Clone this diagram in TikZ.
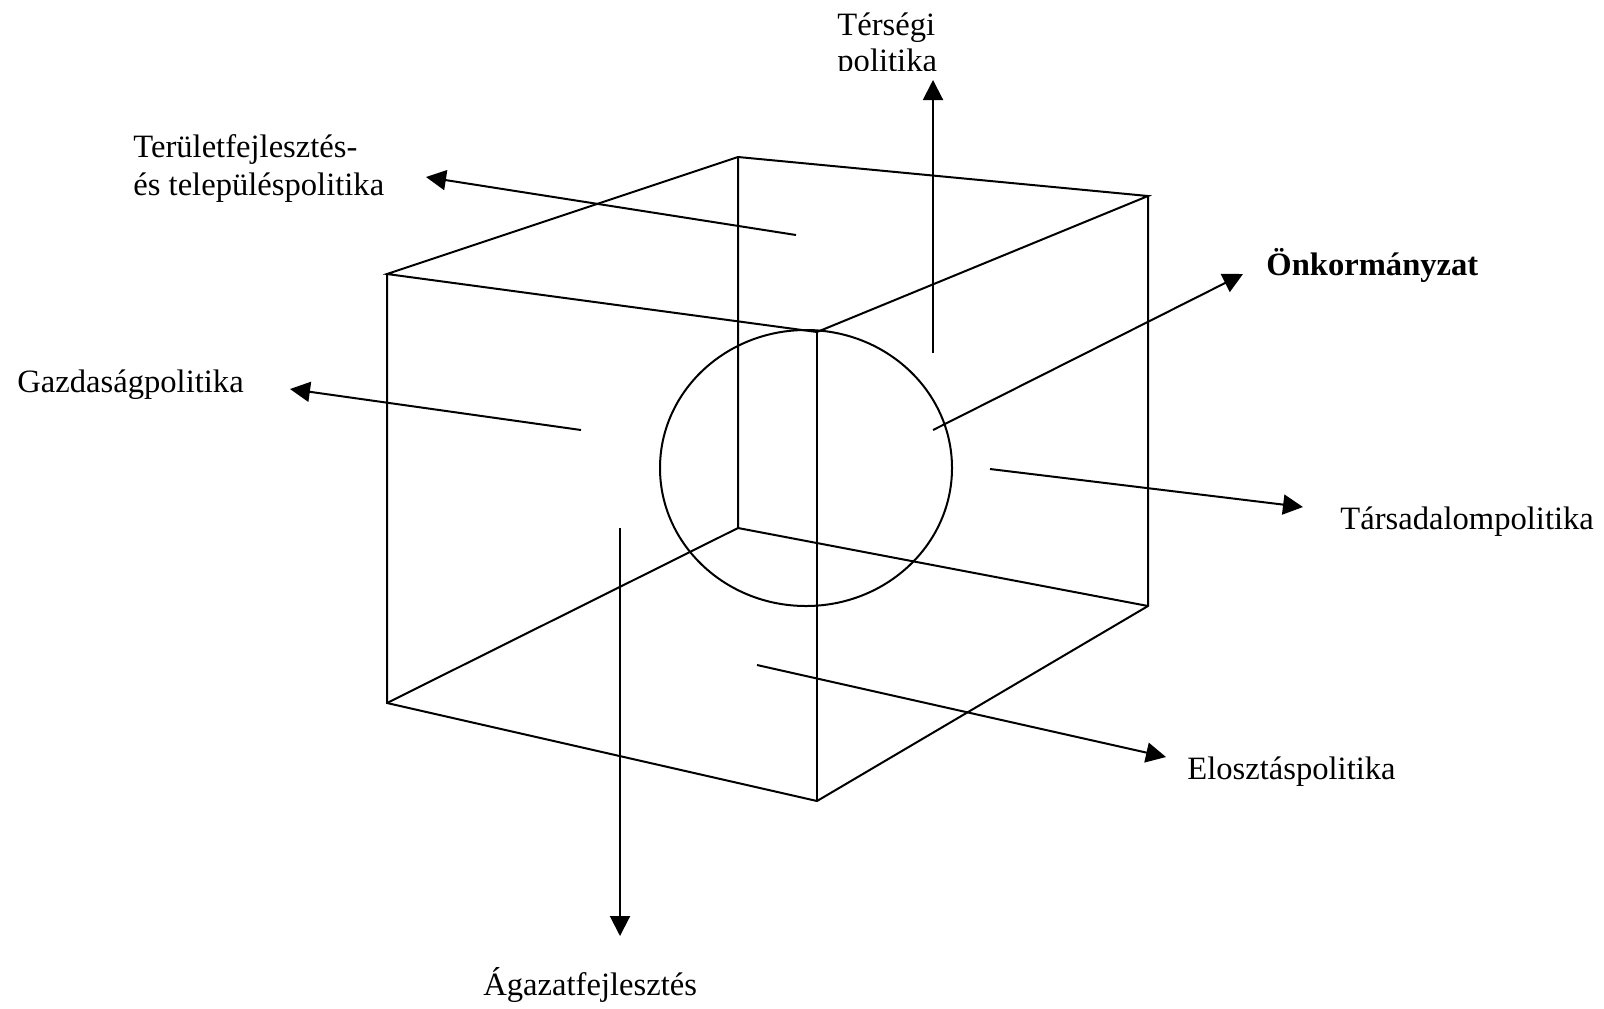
\documentclass[tikz,border=0pt]{standalone}
\usepackage{fontspec}
\setmainfont{Liberation Serif}
\usetikzlibrary{arrows.meta}

\tikzset{
  lbl/.style={anchor=base west,inner sep=0pt,font=\fontsize{16.3}{19}\selectfont},
  cubeline/.style={line width=1pt,line join=miter},
  arr/.style={line width=1pt,-{Triangle[length=10pt,width=10pt]}}
}

\begin{document}
\begin{tikzpicture}[x=0.5pt,y=-0.5pt]
\useasboundingbox (0,0) rectangle (1604,1008);
% cube corners
\coordinate (ftl) at (387,274);
\coordinate (btl) at (738,157);
\coordinate (btr) at (1148,196);
\coordinate (ftr) at (817,332);
\coordinate (fbl) at (387,703);
\coordinate (fbr) at (817,801);
\coordinate (bbr) at (1148,606);
\coordinate (bbl) at (738,528);
\draw[cubeline] (ftl) -- (btl) -- (btr) -- (ftr) -- cycle;
\draw[cubeline] (ftl) -- (fbl) -- (fbr) -- (bbr) -- (btr);
\draw[cubeline] (ftr) -- (fbr);
\draw[cubeline] (btl) -- (bbl) -- (fbl);
\draw[cubeline] (bbl) -- (bbr);
% the sphere
\draw[line width=1pt] (806,468) ellipse [x radius=73pt,y radius=69pt];

% labels
\begin{scope}
\clip (780,0) rectangle (1000,70);
\node[lbl] (tersegi) at (837,35) {Térségi};
\node[lbl] (tersegi2) at (837,71) {politika};
\end{scope}
\node[lbl] (terulet) at (133,157) {Területfejlesztés-};
\node[lbl] (terulet2) at (133,195) {és településpolitika};
\node[lbl,font=\fontsize{16.3}{19}\selectfont\bfseries] (onkorm) at (1266,275) {Önkormányzat};
\node[lbl] (gazdasag) at (17,392) {Gazdaságpolitika};
\node[lbl] (tarsad) at (1340,529) {Társadalompolitika};
\node[lbl] (eloszt) at (1187,779) {Elosztáspolitika};
\node[lbl] (agazat) at (483,995) {Ágazatfejlesztés};

% arrows
\coordinate (s1) at (933,353);  \coordinate (e1) at (933,80);
\coordinate (s2) at (796,235);  \coordinate (e2) at (426,177);
\coordinate (s3) at (933,430);  \coordinate (e3) at (1243,274);
\coordinate (s4) at (581,430);  \coordinate (e4) at (290,389);
\coordinate (s5) at (990,469);  \coordinate (e5) at (1303,507);
\coordinate (s6) at (757,665);  \coordinate (e6) at (1166,757);
\coordinate (s7) at (620,528);  \coordinate (e7) at (620,936);
\draw[arr] (s1) -- (e1);
\draw[arr] (s2) -- (e2);
\draw[arr] (s3) -- (e3);
\draw[arr] (s4) -- (e4);
\draw[arr] (s5) -- (e5);
\draw[arr] (s6) -- (e6);
\draw[arr] (s7) -- (e7);
\end{tikzpicture}
\end{document}
